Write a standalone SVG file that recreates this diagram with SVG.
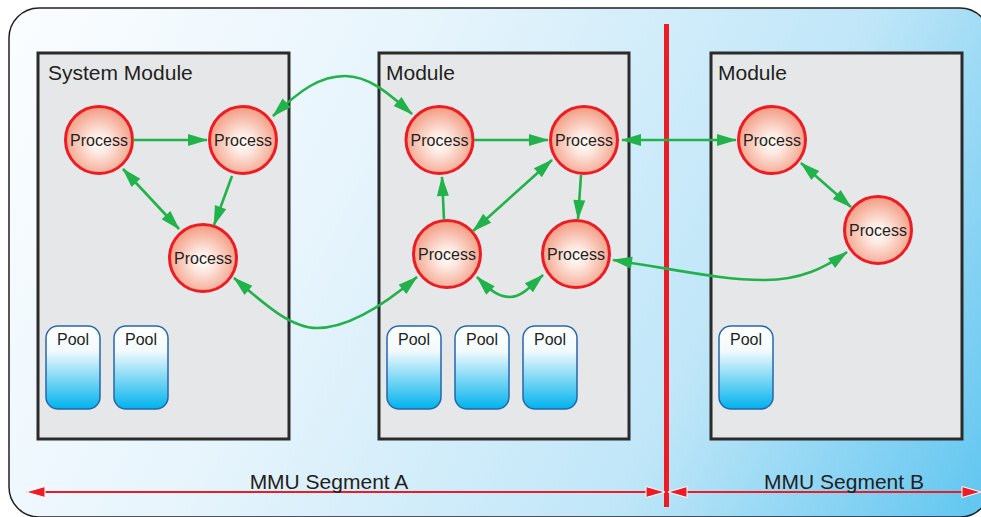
<svg xmlns="http://www.w3.org/2000/svg" width="981" height="517" viewBox="0 0 981 517">
  <style>
    .module { fill: #e6e7e8; stroke: #2b2b2b; stroke-width: 3; }
    .proc { fill: url(#procFill); stroke: #ed1c24; stroke-width: 3; }
    .pool { fill: url(#poolFill); stroke: #2566ae; stroke-width: 1.5; }
    .label { font-family: "Liberation Sans", Arial, sans-serif; fill: #231f20; }
    .mod-title { font-size: 21px; }
    .proc-text { font-size: 16px; text-anchor: middle; }
    .pool-text { font-size: 16px; text-anchor: middle; }
    .seg-text { font-size: 21px; text-anchor: middle; }
    .link { fill: none; stroke: #21b24b; stroke-width: 2.6; }
    .uni { marker-end: url(#greenHead); }
    .bi { marker-start: url(#greenHead); marker-end: url(#greenHead); }
    .dim { fill: none; stroke: #ed1c24; stroke-width: 2.2; marker-start: url(#redHead); marker-end: url(#redHead); }
  </style>
  <defs>
    <linearGradient id="bgFill" gradientUnits="userSpaceOnUse" x1="9" y1="8" x2="990" y2="515">
      <stop offset="0" stop-color="#fbfdff"/>
      <stop offset="0.35" stop-color="#e6f4fc"/>
      <stop offset="0.7" stop-color="#bfe6f8"/>
      <stop offset="1" stop-color="#5ec5f0"/>
    </linearGradient>
    <radialGradient id="procFill" cx="0.5" cy="0.55" r="0.55">
      <stop offset="0" stop-color="#ffffff"/>
      <stop offset="0.3" stop-color="#fde7df"/>
      <stop offset="1" stop-color="#f39a80"/>
    </radialGradient>
    <linearGradient id="poolFill" x1="0" y1="0" x2="0" y2="1">
      <stop offset="0" stop-color="#ffffff"/>
      <stop offset="0.3" stop-color="#f2fafd"/>
      <stop offset="1" stop-color="#00b2ec"/>
    </linearGradient>
    <marker id="greenHead" markerUnits="userSpaceOnUse" markerWidth="21" markerHeight="13" refX="19" refY="6.5" orient="auto-start-reverse" overflow="visible">
      <path d="M0,0.5 L20,6.5 L0,12.5 Z" fill="#21b24b"/>
    </marker>
    <marker id="redHead" markerUnits="userSpaceOnUse" markerWidth="21" markerHeight="13" refX="19" refY="6" orient="auto-start-reverse" overflow="visible">
      <path d="M0,0.5 L19,6 L0,11.5 Z" fill="#ed1c24" stroke="#ffffff" stroke-width="1"/>
    </marker>
  </defs>

  <!-- outer frame -->
  <rect x="9" y="8" width="981" height="509" rx="30" ry="30" fill="url(#bgFill)" stroke="#231f20" stroke-width="1.5"/>

  <!-- modules -->
  <g id="system-module">
    <rect class="module" x="38" y="53" width="251" height="386"/>
    <text class="label mod-title" x="48" y="80">System Module</text>
  </g>
  <g id="module-2">
    <rect class="module" x="379" y="53" width="250" height="386"/>
    <text class="label mod-title" x="386" y="80">Module</text>
  </g>
  <g id="module-3">
    <rect class="module" x="711" y="53" width="251" height="386"/>
    <text class="label mod-title" x="718" y="80">Module</text>
  </g>

  <!-- segment boundary -->
  <line x1="666.5" y1="24" x2="666.5" y2="507" stroke="#ed1c24" stroke-width="5"/>

  <!-- processes -->
  <g id="sm-p1"><circle class="proc" cx="99" cy="140" r="33.5"/><text class="label proc-text" x="99" y="145.5">Process</text></g>
  <g id="sm-p2"><circle class="proc" cx="243" cy="140" r="33.5"/><text class="label proc-text" x="243" y="145.5">Process</text></g>
  <g id="sm-p3"><circle class="proc" cx="203" cy="258" r="33.5"/><text class="label proc-text" x="203" y="263.5">Process</text></g>
  <g id="m2-p1"><circle class="proc" cx="439.5" cy="140" r="33.5"/><text class="label proc-text" x="439.5" y="145.5">Process</text></g>
  <g id="m2-p2"><circle class="proc" cx="584" cy="140" r="33.5"/><text class="label proc-text" x="584" y="145.5">Process</text></g>
  <g id="m2-p3"><circle class="proc" cx="447" cy="254" r="33.5"/><text class="label proc-text" x="447" y="259.5">Process</text></g>
  <g id="m2-p4"><circle class="proc" cx="576" cy="254" r="33.5"/><text class="label proc-text" x="576" y="259.5">Process</text></g>
  <g id="m3-p1"><circle class="proc" cx="772" cy="140" r="33.5"/><text class="label proc-text" x="772" y="145.5">Process</text></g>
  <g id="m3-p2"><circle class="proc" cx="878" cy="230" r="33.5"/><text class="label proc-text" x="878" y="235.5">Process</text></g>

  <!-- pools -->
  <g id="sm-pool1"><rect class="pool" x="46" y="326" width="54" height="83" rx="12"/><text class="label pool-text" x="73" y="345">Pool</text></g>
  <g id="sm-pool2"><rect class="pool" x="114" y="326" width="54" height="83" rx="12"/><text class="label pool-text" x="141" y="345">Pool</text></g>
  <g id="m2-pool1"><rect class="pool" x="387" y="326" width="54" height="83" rx="12"/><text class="label pool-text" x="414" y="345">Pool</text></g>
  <g id="m2-pool2"><rect class="pool" x="455" y="326" width="54" height="83" rx="12"/><text class="label pool-text" x="482" y="345">Pool</text></g>
  <g id="m2-pool3"><rect class="pool" x="523" y="326" width="54" height="83" rx="12"/><text class="label pool-text" x="550" y="345">Pool</text></g>
  <g id="m3-pool1"><rect class="pool" x="719" y="326" width="54" height="83" rx="12"/><text class="label pool-text" x="746" y="345">Pool</text></g>

  <!-- process links -->
  <g id="connectors">
    <line class="link uni" x1="133" y1="140" x2="207" y2="140"/>
    <line class="link bi" x1="123" y1="169" x2="179" y2="229"/>
    <line class="link uni" x1="232" y1="176" x2="214" y2="225"/>
    <path class="link bi" d="M273,116 C300,90 320,76 345,76 C370,76 390,95 412,114"/>
    <path class="link bi" d="M234,278 C262,302 290,328 317,328 C352,328 390,300 417,277"/>
    <line class="link uni" x1="474" y1="140" x2="548" y2="140"/>
    <line class="link uni" x1="444" y1="220" x2="442" y2="177"/>
    <line class="link bi" x1="552" y1="160" x2="473" y2="231"/>
    <line class="link uni" x1="581" y1="175" x2="578" y2="219"/>
    <path class="link bi" d="M477,277 C490,290 498,297 510,297 C522,297 532,285 543,275"/>
    <line class="link bi" x1="622" y1="140" x2="736" y2="140"/>
    <line class="link bi" x1="801" y1="163" x2="851" y2="207"/>
    <path class="link bi" d="M613,260 C680,270 720,280 765,280 C800,280 825,268 847,252"/>
  </g>

  <!-- segment extents -->
  <g id="segments">
    <line class="dim" x1="26" y1="492" x2="665" y2="492"/>
    <line class="dim" x1="668" y1="492" x2="981" y2="492"/>
    <text class="label seg-text" x="329" y="489">MMU Segment A</text>
    <text class="label seg-text" x="844" y="489">MMU Segment B</text>
  </g>
</svg>
